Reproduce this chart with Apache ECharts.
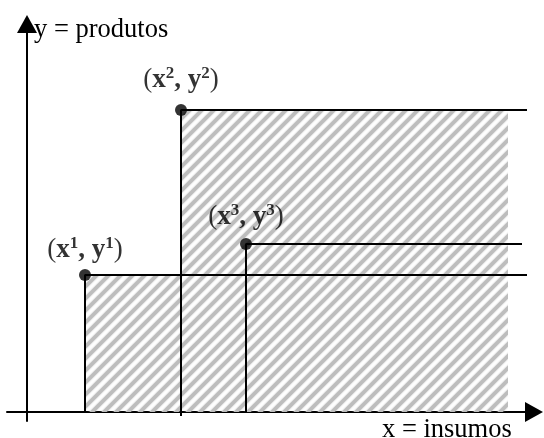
<!DOCTYPE html>
<html lang="pt">
<head>
    <meta charset="UTF-8">
    <title>Insumos e produtos</title>
    <script src="https://cdn.jsdelivr.net/npm/echarts@6/dist/echarts.min.js"></script>
    <style>
        html, body { margin: 0; padding: 0; background: #fff; }
        #chart { width: 544px; height: 438px; }
    </style>
</head>
<body>
    <div id="chart"></div>
    <script>
        // pontos observados (x = insumos, y = produtos), unidades arbitrarias
        const pontos = ['1', '2', '3'];
        const insumos = [58, 154, 219];
        const produtos = [137, 302, 168];
        // ate onde vao as linhas horizontais de cada ponto
        const fimLinha = [500, 500, 495];
        // limite direito da area hachurada
        const fimHachura = 481;
        // extensao dos eixos
        const eixoX = [-20, 507];
        const eixoY = [-9, 388];

        // afastamento de cada rotulo acima do seu ponto (px)
        var afastamento = [4, 9, 6];

        // padrao de hachura diagonal
        function hachura() {
            var c = document.createElement('canvas');
            var s = 12;
            c.width = s; c.height = s;
            var ctx = c.getContext('2d');
            ctx.strokeStyle = '#bdbdbd';
            ctx.lineWidth = 3.5;
            ctx.shadowColor = '#bdbdbd';
            ctx.shadowBlur = 2;
            ctx.beginPath();
            ctx.moveTo(-s, 2 * s); ctx.lineTo(2 * s, -s);
            ctx.moveTo(-s, s); ctx.lineTo(s, -s);
            ctx.moveTo(0, 2 * s); ctx.lineTo(2 * s, 0);
            ctx.stroke();
            return c;
        }

        // contorno da regiao hachurada
        var area = [
            [insumos[0], produtos[0]],
            [insumos[1], produtos[0]],
            [insumos[1], produtos[1]],
            [fimHachura, produtos[1]]
        ];

        var series = [{
            type: 'line',
            data: area,
            symbol: 'none',
            silent: true,
            lineStyle: { opacity: 0 },
            areaStyle: { color: { image: hachura(), repeat: 'repeat' }, opacity: 1 },
            z: 1
        }];

        pontos.forEach(function (p, i) {
            var base = i === 1 ? -4 : 0;
            series.push({
                type: 'line',
                data: [[insumos[i], base], [insumos[i], produtos[i]], [fimLinha[i], produtos[i]]],
                symbol: 'none',
                silent: true,
                lineStyle: { color: '#000', width: 2 },
                z: 3
            });
        });

        var serif = 'Liberation Serif';
        series.push({
            type: 'scatter',
            data: insumos.map(function (x, i) {
                return { value: [x, produtos[i], pontos[i]], label: { distance: afastamento[i] } };
            }),
            symbol: 'circle',
            symbolSize: 12,
            itemStyle: { color: '#000' },
            z: 5,
            label: {
                show: true,
                position: 'top',
                formatter: function (d) {
                    var n = d.value[2];
                    return '{p|(}{b|x}{s|' + n + '}{c|, }{b|y}{s|' + n + '}{p|)}';
                },
                rich: {
                    p: { fontFamily: serif, fontSize: 27, color: '#000', lineHeight: 30 },
                    c: { fontFamily: serif, fontSize: 27, fontWeight: 'bold', color: '#000', lineHeight: 30 },
                    b: { fontFamily: serif, fontSize: 27, fontWeight: 'bold', color: '#000', lineHeight: 30 },
                    s: { fontFamily: serif, fontSize: 17, fontWeight: 'bold', color: '#000', lineHeight: 17, verticalAlign: 'top' }
                }
            }
        });

        var chart = echarts.init(document.getElementById('chart'));
        chart.setOption({
            animation: false,
            grid: { left: 7, right: 10, top: 24, bottom: 17, outerBoundsMode: 'none', containLabel: false },
            xAxis: {
                type: 'value',
                min: eixoX[0],
                max: eixoX[1],
                name: 'x = insumos',
                nameLocation: 'end',
                nameGap: -152,
                nameMoveOverlap: false,
                nameTextStyle: {
                    fontFamily: serif, fontSize: 26.5, color: '#000',
                    align: 'left', verticalAlign: 'top', lineHeight: 26, padding: [5, 0, 0, 0]
                },
                axisLine: { onZero: true, lineStyle: { color: '#000', width: 2 }, symbol: ['none', 'triangle'], symbolSize: [20, 18] },
                axisTick: { show: false },
                axisLabel: { show: false },
                splitLine: { show: false }
            },
            yAxis: {
                type: 'value',
                min: eixoY[0],
                max: eixoY[1],
                name: 'y = produtos',
                nameLocation: 'end',
                nameGap: -6,
                nameMoveOverlap: false,
                nameTextStyle: {
                    fontFamily: serif, fontSize: 26.5, color: '#000',
                    align: 'left', verticalAlign: 'middle', lineHeight: 26, padding: [0, 0, 0, 7]
                },
                axisLine: { onZero: true, lineStyle: { color: '#000', width: 2 }, symbol: ['none', 'triangle'], symbolSize: [20, 18] },
                axisTick: { show: false },
                axisLabel: { show: false },
                splitLine: { show: false }
            },
            series: series
        });
    </script>
</body>
</html>
